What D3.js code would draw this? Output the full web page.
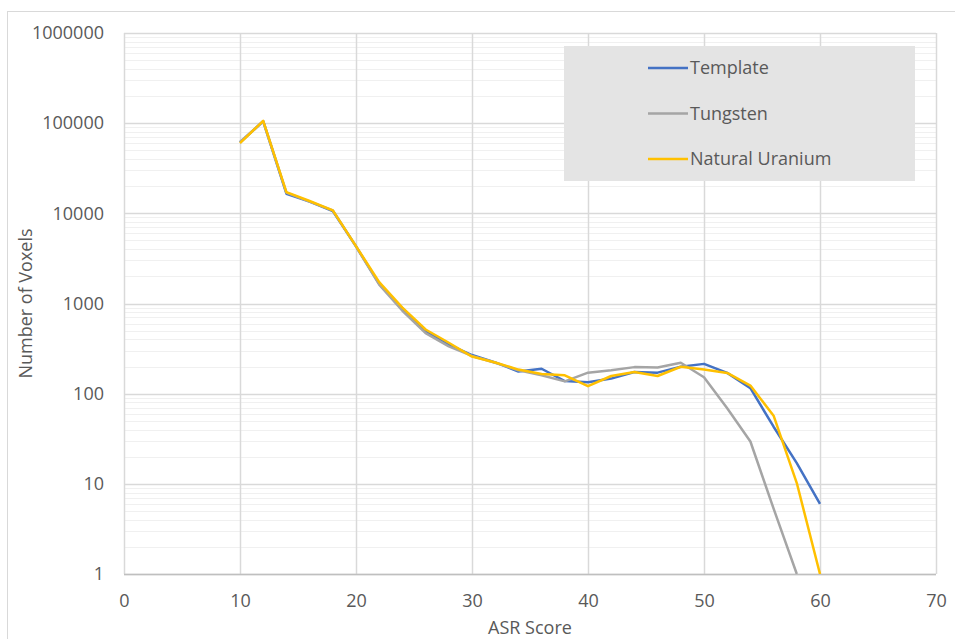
<!DOCTYPE html>
<html>
<head>
<meta charset="utf-8">
<script src="https://cdn.jsdelivr.net/npm/d3@7"></script>
<style>
  body { margin: 0; background: #fff; }
  text { font-family: "Open Sans", "Noto Sans", sans-serif; fill: #595959; }
</style>
</head>
<body>
<script>
// Chart data
const asrScores = [10, 12, 14, 16, 18, 20, 22, 24, 26, 28, 30, 32, 34, 36, 38, 40, 42, 44, 46, 48, 50, 52, 54, 56, 58, 60];
const template = [61000, 105000, 16500, 13500, 10600, 4300, 1650, 880, 490, 350, 268, 222, 176, 189, 138, 134, 147, 174, 171, 199, 214, 170, 115, 43, 17, 6];
const tungsten = [62000, 105000, 17000, 13500, 10800, 4300, 1620, 830, 470, 335, 262, 220, 182, 160, 137, 171, 182, 197, 195, 220, 152, 69, 29.5, 5.3, 1];
const uranium  = [60000, 106000, 17200, 13700, 10800, 4330, 1725, 900, 515, 367, 258, 222, 185, 165, 160, 121, 157, 174, 157, 199, 185, 170, 123, 57, 10.2, 1];
const xTicks = [0, 10, 20, 30, 40, 50, 60, 70];
const yTicks = [1, 10, 100, 1000, 10000, 100000, 1000000];

const series = [
  { name: "Template", values: template, color: "#4472C4" },
  { name: "Tungsten", values: tungsten, color: "#A5A5A5" },
  { name: "Natural Uranium", values: uranium, color: "#FFC000" }
];

// Plot area, in page pixels
const margin = { top: 33, right: 19, bottom: 65, left: 124 };
const W = 955, H = 639;
const width = W - margin.left - margin.right;
const height = H - margin.top - margin.bottom;

const svg = d3.select("body").append("svg")
  .attr("width", W)
  .attr("height", H);

// outer chart border
svg.append("rect")
  .attr("x", 7.5).attr("y", 11.5)
  .attr("width", 960).attr("height", 700)
  .attr("fill", "none")
  .attr("stroke", "#d9d9d9");

const g = svg.append("g")
  .attr("transform", `translate(${margin.left}, ${margin.top})`);

const x = d3.scaleLinear().domain([0, 70]).range([0, width]);
const y = d3.scaleLog().domain([1, 1000000]).range([height, 0]);

// minor log gridlines
const minor = [];
yTicks.slice(0, -1).forEach(d => {
  for (let k = 2; k <= 9; k++) minor.push(d * k);
});
g.selectAll(".minor")
  .data(minor)
  .join("line")
  .attr("x1", 0).attr("x2", width)
  .attr("y1", d => Math.round(y(d)) + 0.5)
  .attr("y2", d => Math.round(y(d)) + 0.5)
  .attr("stroke", "#f0f0f0")
  .attr("stroke-width", 1);

// major gridlines
g.selectAll(".hgrid")
  .data(yTicks)
  .join("line")
  .attr("x1", 0).attr("x2", width)
  .attr("y1", d => Math.round(y(d)) + 0.5)
  .attr("y2", d => Math.round(y(d)) + 0.5)
  .attr("stroke", "#d9d9d9")
  .attr("stroke-width", 1.5);

g.selectAll(".vgrid")
  .data(xTicks)
  .join("line")
  .attr("x1", d => Math.round(x(d)) + 0.5)
  .attr("x2", d => Math.round(x(d)) + 0.5)
  .attr("y1", 0).attr("y2", height)
  .attr("stroke", "#d9d9d9")
  .attr("stroke-width", 1.5);

// bottom axis line
g.append("line")
  .attr("x1", 0).attr("x2", width)
  .attr("y1", height + 0.5).attr("y2", height + 0.5)
  .attr("stroke", "#bfbfbf")
  .attr("stroke-width", 1.5);

// tick labels
const xAxis = g.append("g")
  .attr("transform", `translate(0, ${height})`)
  .call(d3.axisBottom(x).tickValues(xTicks).tickSize(0).tickPadding(20).tickFormat(d3.format("d")));
xAxis.select(".domain").remove();
xAxis.selectAll("text").style("font-size", "18px").attr("fill", "#595959");

const yAxis = g.append("g")
  .call(d3.axisLeft(y).tickValues(yTicks).tickSize(0).tickPadding(20).tickFormat(d3.format("d")));
yAxis.select(".domain").remove();
yAxis.selectAll("text").style("font-size", "18px").attr("fill", "#595959");

// axis titles
svg.append("text")
  .attr("x", margin.left + width / 2)
  .attr("y", 634)
  .attr("text-anchor", "middle")
  .style("font-size", "18px")
  .text("ASR Score");

svg.append("text")
  .attr("transform", `translate(32, ${margin.top + height / 2}) rotate(-90)`)
  .attr("text-anchor", "middle")
  .style("font-size", "18px")
  .text("Number of Voxels");

// series lines
const line = d3.line()
  .x(d => x(d.x))
  .y(d => y(d.v));

svg.append("clipPath").attr("id", "plot-clip")
  .append("rect").attr("x", -2).attr("y", -2).attr("width", width + 4).attr("height", height + 2);

series.forEach(s => {
  g.append("path")
    .datum(asrScores.map((a, i) => ({ x: a, v: s.values[i] })))
    .attr("d", line)
    .attr("fill", "none")
    .attr("stroke", s.color)
    .attr("stroke-width", 2.5)
    .attr("stroke-linejoin", "round")
    .attr("clip-path", "url(#plot-clip)");
});

// legend
const legend = svg.append("g").attr("transform", "translate(564, 46)");
legend.append("rect")
  .attr("width", 351).attr("height", 135)
  .attr("fill", "#e4e4e4");

series.forEach((s, i) => {
  const row = legend.append("g").attr("transform", `translate(0, ${22 + i * 45.5})`);
  row.append("line")
    .attr("x1", 84).attr("x2", 124)
    .attr("stroke", s.color)
    .attr("stroke-width", 2.5);
  row.append("text")
    .attr("x", 126)
    .attr("dy", "0.35em")
    .style("font-size", "18px")
    .text(s.name);
});
</script>
</body>
</html>
